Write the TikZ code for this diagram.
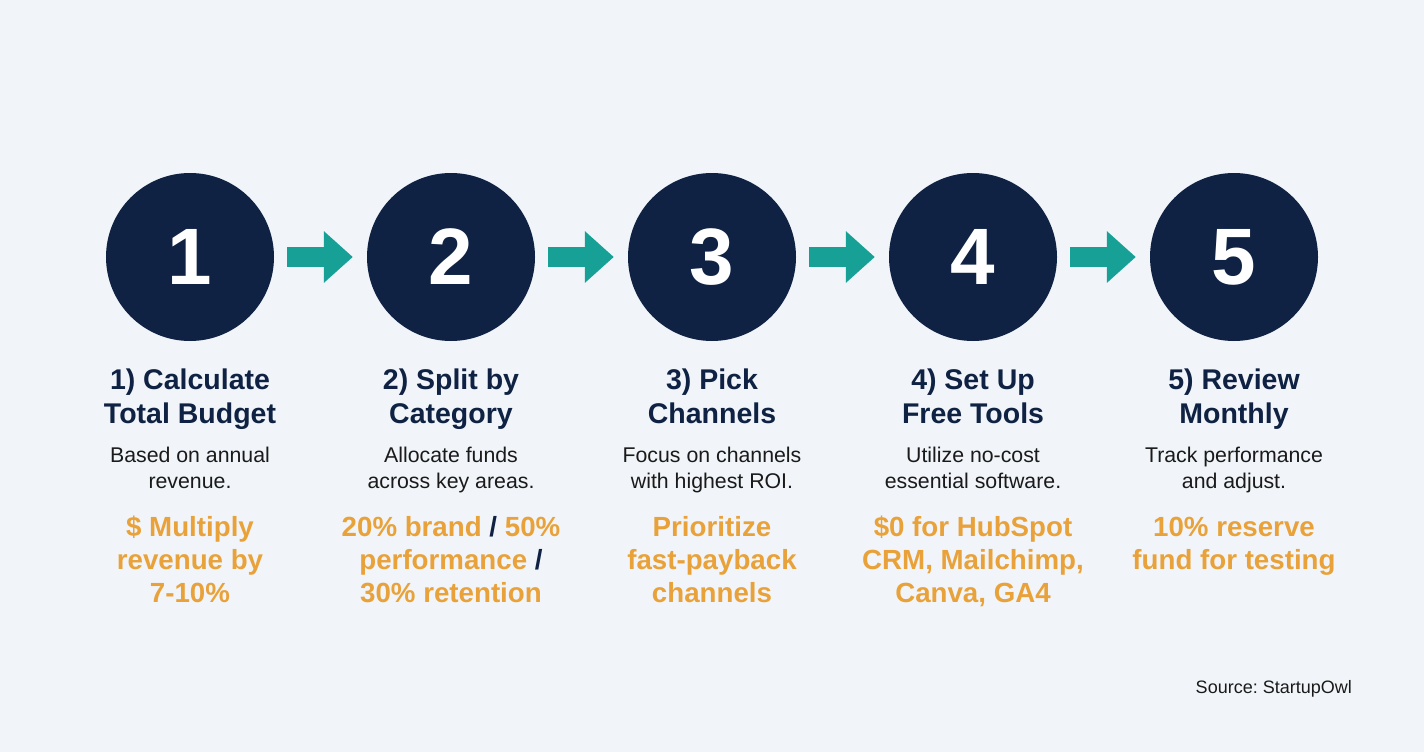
\documentclass[tikz,border=0pt]{standalone}
\usepackage{fontspec}
\setmainfont{Liberation Sans}
\usetikzlibrary{arrows.meta}
\definecolor{bg}{HTML}{F1F5F9}
\definecolor{navy}{HTML}{0F2243}
\definecolor{tealc}{HTML}{17A196}
\definecolor{orng}{HTML}{E9A23A}
\definecolor{ink}{HTML}{1A1A1A}
\frenchspacing
\begin{document}
\begin{tikzpicture}[x=1pt,y=-1pt,
  stepcircle/.style={circle,fill=navy,minimum size=168pt,inner sep=0pt,text=white,font=\fontsize{80}{80}\selectfont\bfseries},
  flow/.style={draw=tealc,line width=20pt,-{Triangle[length=29pt,width=50pt]},shorten <=13pt,shorten >=14pt},
  titletext/.style={anchor=base,align=center,inner sep=0pt,text=navy,font=\fontsize{28.5}{34}\selectfont\bfseries},
  desctext/.style={anchor=base,align=center,inner sep=0pt,text=ink,font=\fontsize{21.3}{26}\selectfont},
  hightext/.style={anchor=base,align=center,inner sep=0pt,text=orng,font=\fontsize{27.7}{33}\selectfont\bfseries},
  srctext/.style={anchor=base east,inner sep=0pt,text=ink,font=\fontsize{18}{20}\selectfont}]
\fill[bg] (0,0) rectangle (1424,752);
\useasboundingbox (0,0) rectangle (1424,752);
\node[stepcircle] (c1) at (190,257) {1};
\node[stepcircle] (c2) at (451,257) {2};
\node[stepcircle] (c3) at (712,257) {3};
\node[stepcircle] (c4) at (973,257) {4};
\node[stepcircle] (c5) at (1234,257) {5};
\draw[flow] (c1) -- (c2);
\draw[flow] (c2) -- (c3);
\draw[flow] (c3) -- (c4);
\draw[flow] (c4) -- (c5);
% base anchor = baseline of last line
\node[titletext] (t1) at (190,423) {1) Calculate\\Total Budget};
\node[titletext] (t2) at (451,423) {2) Split by\\Category};
\node[titletext] (t3) at (712,423) {3) Pick\\Channels};
\node[titletext] (t4) at (973,423) {4) Set Up\\Free Tools};
\node[titletext] (t5) at (1234,423) {5) Review\\Monthly};
\node[desctext] (d1) at (190,488) {Based on annual\\revenue.};
\node[desctext] (d2) at (451,488) {Allocate funds\\across key areas.};
\node[desctext] (d3) at (712,488) {Focus on channels\\with highest ROI.};
\node[desctext] (d4) at (973,488) {Utilize no-cost\\essential software.};
\node[desctext] (d5) at (1234,488) {Track performance\\and adjust.};
\node[hightext] (h1) at (190,602) {\$ Multiply\\revenue by\\7-10\%};
\node[hightext] (h2) at (451,602) {20\% brand \textcolor{navy}{/} 50\%\\performance \textcolor{navy}{/}\\30\% retention};
\node[hightext] (h3) at (712,602) {Prioritize\\fast-payback\\channels};
\node[hightext] (h4) at (973,602) {\$0 for HubSpot\\CRM, Mailchimp,\\Canva, GA4};
\node[hightext] (h5) at (1234,569) {10\% reserve\\fund for testing};
\node[srctext] (src) at (1352,693) {Source: StartupOwl};
\end{tikzpicture}
\end{document}
